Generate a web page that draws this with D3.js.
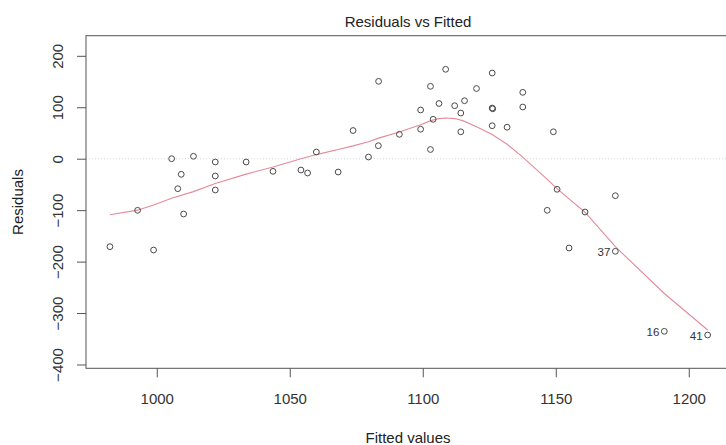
<!DOCTYPE html>
<html><head><meta charset="utf-8">
<script src="https://cdn.jsdelivr.net/npm/d3@7"></script>
<style>
body{margin:0;background:#fff;}
svg{display:block;font-family:"Liberation Sans",Arial,Helvetica,sans-serif;}
</style>
</head><body>
<svg id="chart" width="726" height="445"></svg>
<script>
// ---- data ----
const fitted = [982.4, 992.8, 998.8, 1005.6, 1013.8, 1009.2, 1007.9, 1010.1, 1022.0, 1022.0,
  1022.0, 1033.6, 1043.7, 1054.2, 1056.7, 1060.0, 1068.2, 1073.8, 1079.6, 1083.3,
  1083.4, 1091.2, 1099.2, 1099.2, 1102.9, 1102.9, 1103.9, 1106.1, 1108.6, 1112.0,
  1114.3, 1115.7, 1114.3, 1120.2, 1126.1, 1126.1, 1126.3, 1126.1, 1131.7, 1137.6,
  1137.6, 1149.1, 1150.5, 1146.8, 1161.0, 1172.4, 1155.0, 1172.4, 1190.8, 1207.1];
const residuals = [-171, -100.3, -177.5, 0, 4.7, -30.3, -58.3, -107.5, -6.4, -33.6,
  -60.8, -6.4, -24.5, -22, -27.8, 13, -25.9, 54.8, 3.3, 25.3,
  150.4, 47.4, 57.3, 94.7, 140.7, 17.9, 76.6, 107.3, 173.8, 103,
  88.8, 112.7, 52.3, 136.4, 166.6, 98.5, 97, 64.1, 61.2, 129,
  100.5, 52.3, -59.5, -100.3, -103.6, -71.9, -173.6, -180, -335.5, -342.7];
const labelNames = ["37", "16", "41"];
const labelIndex = [47, 48, 49];
const smoothFitted = [982.4, 992.8, 998.8, 1005.6, 1013.8, 1022.0, 1033.6, 1043.7, 1054.2, 1060.0,
  1068.2, 1073.8, 1079.6, 1083.4, 1091.2, 1099.2, 1103.0, 1106.1, 1108.6, 1112.0,
  1115.0, 1120.2, 1126.1, 1131.7, 1137.6, 1146.8, 1150.5, 1155.0, 1161.0, 1172.4,
  1190.8, 1207.1];
const smoothResid = [-109, -100, -90, -77, -64, -48, -30, -16, 0, 8,
  18, 25, 33, 40, 52, 66, 74, 78, 79, 78,
  74, 62, 47, 28, 3, -40, -58, -78, -104, -171,
  -262, -333];
const xTicks = [1000, 1050, 1100, 1150, 1200];
const yTicks = [-400, -300, -200, -100, 0, 100, 200];
const titleText = "Residuals vs Fitted";
const xLabel = "Fitted values";
const yLabel = "Residuals";

// ---- layout ----
const L = 86, R = 730, T = 35.7, B = 368.3;
const svg = d3.select("#chart");
const x = d3.scaleLinear().domain([973.4, 1215.5]).range([L, R]);
const y = d3.scaleLinear().domain([-407.4, 239.1]).range([B, T]);
const FS = 15;

// zero reference line
svg.append("line")
  .attr("x1", L).attr("x2", R).attr("y1", y(0)).attr("y2", y(0))
  .attr("stroke", "#d8d8d8").attr("stroke-width", 1).attr("stroke-dasharray", "1,2");

// smooth line
svg.append("path")
  .datum(smoothFitted.map((f, i) => [f, smoothResid[i]]))
  .attr("fill", "none").attr("stroke", "#e48a9c").attr("stroke-width", 1.1)
  .attr("d", d3.line().x(d => x(d[0])).y(d => y(d[1])));

// points
svg.append("g").selectAll("circle")
  .data(fitted.map((f, i) => [f, residuals[i]]))
  .join("circle")
  .attr("cx", d => x(d[0])).attr("cy", d => y(d[1])).attr("r", 2.9)
  .attr("fill", "none").attr("stroke", "#4a4a4a").attr("stroke-width", 1);

// point labels
svg.append("g").selectAll("text")
  .data(labelIndex.map((k, i) => ({k, name: labelNames[i]})))
  .join("text")
  .attr("x", d => x(fitted[d.k]) - 5).attr("y", d => y(residuals[d.k]) + 5)
  .attr("text-anchor", "end").attr("font-size", 11.5).attr("fill", "#333")
  .text(d => d.name);

// frame
svg.append("rect")
  .attr("x", L).attr("y", T).attr("width", R - L).attr("height", B - T)
  .attr("fill", "none").attr("stroke", "#555").attr("stroke-width", 1);

// x axis
const gx = svg.append("g").attr("transform", `translate(0,${B})`)
  .call(d3.axisBottom(x).tickValues(xTicks).tickSize(9).tickFormat(d3.format("d")));
gx.select(".domain").remove();
gx.selectAll(".tick line").attr("stroke", "#555");
gx.selectAll(".tick text").attr("y", 35.7).attr("dy", 0)
  .attr("font-size", FS).attr("fill", "#333").attr("font-family", null);

// y axis
const gy = svg.append("g").attr("transform", `translate(${L},0)`)
  .call(d3.axisLeft(y).tickValues(yTicks).tickSize(9).tickFormat(d3.format("d")));
gy.select(".domain").remove();
gy.selectAll(".tick line").attr("stroke", "#555");
gy.selectAll(".tick text")
  .attr("x", 0).attr("y", 0).attr("dy", 0)
  .attr("transform", "translate(-23,0) rotate(-90)")
  .attr("text-anchor", "middle")
  .attr("font-size", FS).attr("fill", "#333").attr("font-family", null);

// title and axis labels
svg.append("text").attr("x", (L + R) / 2).attr("y", 26.5)
  .attr("text-anchor", "middle").attr("font-size", FS).attr("fill", "#222")
  .text(titleText);
svg.append("text").attr("x", (L + R) / 2).attr("y", 443)
  .attr("text-anchor", "middle").attr("font-size", FS).attr("fill", "#222")
  .text(xLabel);
svg.append("text")
  .attr("transform", `translate(23,${(T + B) / 2}) rotate(-90)`)
  .attr("text-anchor", "middle").attr("font-size", FS).attr("fill", "#222")
  .text(yLabel);
</script>
</body></html>
